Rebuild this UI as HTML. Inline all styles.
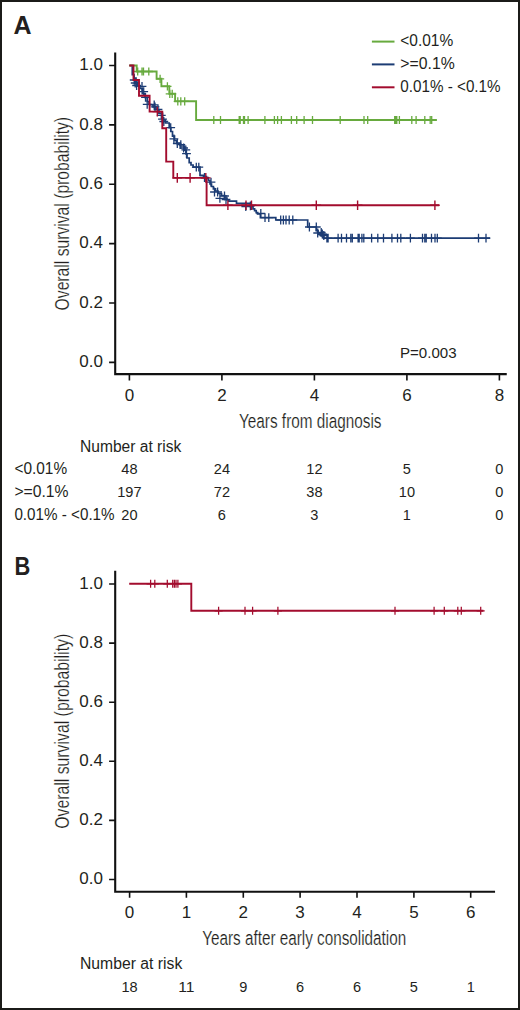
<!DOCTYPE html>
<html><head><meta charset="utf-8"><style>
html,body{margin:0;padding:0;background:#fff;}
body{width:520px;height:1010px;overflow:hidden;}
.fr{position:absolute;left:0;top:0;width:520px;height:1010px;box-sizing:border-box;border-style:solid;border-color:#1b1b19;border-width:2px 2.3px 2.4px 2px;}
svg{position:absolute;left:0;top:0;}
.thin{stroke:#fff;stroke-width:0.2px;}
</style></head><body>
<svg width="520" height="1010" viewBox="0 0 520 1010" font-family='"Liberation Sans", sans-serif' fill="#231f20">
<path d="M115.2,53.5V374.1H505.7" fill="none" stroke="#111" stroke-width="2.1" stroke-linejoin="miter" stroke-linecap="square"/>
<path d="M109.1,362.4H115.2M109.1,303.0H115.2M109.1,243.6H115.2M109.1,184.3H115.2M109.1,124.9H115.2M109.1,65.5H115.2M129.4,374.1V380.4M221.9,374.1V380.4M314.4,374.1V380.4M406.9,374.1V380.4M499.4,374.1V380.4" fill="none" stroke="#111" stroke-width="1.6"/>
<text x="103.0" y="367.2" font-size="17" text-anchor="end">0.0</text>
<text x="103.0" y="307.8" font-size="17" text-anchor="end">0.2</text>
<text x="103.0" y="248.4" font-size="17" text-anchor="end">0.4</text>
<text x="103.0" y="189.1" font-size="17" text-anchor="end">0.6</text>
<text x="103.0" y="129.7" font-size="17" text-anchor="end">0.8</text>
<text x="103.0" y="70.3" font-size="17" text-anchor="end">1.0</text>
<text x="129.4" y="400.5" font-size="17" text-anchor="middle">0</text>
<text x="221.9" y="400.5" font-size="17" text-anchor="middle">2</text>
<text x="314.4" y="400.5" font-size="17" text-anchor="middle">4</text>
<text x="406.9" y="400.5" font-size="17" text-anchor="middle">6</text>
<text x="499.4" y="400.5" font-size="17" text-anchor="middle">8</text>
<text x="239.0" y="427.6" font-size="20.5" textLength="142.5" lengthAdjust="spacingAndGlyphs" class="thin">Years from diagnosis</text>
<text transform="translate(68.7,310.4) rotate(-90)" class="thin" font-size="20" textLength="193.5" lengthAdjust="spacingAndGlyphs">Overall survival (probability)</text>
<text x="13.6" y="34.1" font-size="25" font-weight="bold">A</text>
<path d="M371.9,41.6H394.5" stroke="#67aa3e" stroke-width="2"/>
<text x="400.3" y="46.3" font-size="16" textLength="52.9" lengthAdjust="spacingAndGlyphs">&lt;0.01%</text>
<path d="M371.9,64.4H394.5" stroke="#1c3c74" stroke-width="2"/>
<text x="400.3" y="68.9" font-size="16" textLength="54.4" lengthAdjust="spacingAndGlyphs">&gt;=0.1%</text>
<path d="M371.9,87.3H394.5" stroke="#a30c2e" stroke-width="2"/>
<text x="400.3" y="92.1" font-size="16" textLength="100.3" lengthAdjust="spacingAndGlyphs">0.01% - &lt;0.1%</text>
<text x="400.0" y="357.7" font-size="15.5" textLength="56.6" lengthAdjust="spacingAndGlyphs">P=0.003</text>
<text x="80.0" y="451.6" font-size="15.8" textLength="101.3" lengthAdjust="spacingAndGlyphs">Number at risk</text>
<text x="14.4" y="474.0" font-size="16" textLength="52.7" lengthAdjust="spacingAndGlyphs">&lt;0.01%</text>
<text x="129.4" y="474.0" font-size="15.5" text-anchor="middle" textLength="16.2" lengthAdjust="spacingAndGlyphs">48</text>
<text x="221.9" y="474.0" font-size="15.5" text-anchor="middle" textLength="16.2" lengthAdjust="spacingAndGlyphs">24</text>
<text x="314.4" y="474.0" font-size="15.5" text-anchor="middle" textLength="16.2" lengthAdjust="spacingAndGlyphs">12</text>
<text x="406.9" y="474.0" font-size="15.5" text-anchor="middle" textLength="8.1" lengthAdjust="spacingAndGlyphs">5</text>
<text x="499.4" y="474.0" font-size="15.5" text-anchor="middle" textLength="8.1" lengthAdjust="spacingAndGlyphs">0</text>
<text x="14.4" y="496.8" font-size="16" textLength="54.2" lengthAdjust="spacingAndGlyphs">&gt;=0.1%</text>
<text x="129.4" y="496.8" font-size="15.5" text-anchor="middle" textLength="24.3" lengthAdjust="spacingAndGlyphs">197</text>
<text x="221.9" y="496.8" font-size="15.5" text-anchor="middle" textLength="16.2" lengthAdjust="spacingAndGlyphs">72</text>
<text x="314.4" y="496.8" font-size="15.5" text-anchor="middle" textLength="16.2" lengthAdjust="spacingAndGlyphs">38</text>
<text x="406.9" y="496.8" font-size="15.5" text-anchor="middle" textLength="16.2" lengthAdjust="spacingAndGlyphs">10</text>
<text x="499.4" y="496.8" font-size="15.5" text-anchor="middle" textLength="8.1" lengthAdjust="spacingAndGlyphs">0</text>
<text x="14.4" y="519.5" font-size="16" textLength="100.2" lengthAdjust="spacingAndGlyphs">0.01% - &lt;0.1%</text>
<text x="129.4" y="519.5" font-size="15.5" text-anchor="middle" textLength="16.2" lengthAdjust="spacingAndGlyphs">20</text>
<text x="221.9" y="519.5" font-size="15.5" text-anchor="middle" textLength="8.1" lengthAdjust="spacingAndGlyphs">6</text>
<text x="314.4" y="519.5" font-size="15.5" text-anchor="middle" textLength="8.1" lengthAdjust="spacingAndGlyphs">3</text>
<text x="406.9" y="519.5" font-size="15.5" text-anchor="middle" textLength="8.1" lengthAdjust="spacingAndGlyphs">1</text>
<text x="499.4" y="519.5" font-size="15.5" text-anchor="middle" textLength="8.1" lengthAdjust="spacingAndGlyphs">0</text>
<path d="M129.4,65.5H132.3V74.7H134V78H136V82H137.5V86H140V88.5H142.3V93.7H145V97.4H147.2V101.5H149V104.5H153V106.9H156V109.5H159V113.3H162.5V120H165.4V123H169.2V127.7H170.8V131.5H172.5V136.2H174.5V140.5H176.5V143H180V146H184.4V150.2H186V154H187V158H189.2V162.7H191V165H193.1V167.1H200V175.3H203.5V176.5H206.5V178.5H208.5V180.5H210V184H211.5V186.5H213.4V188.8H215.5V191H218V193.5H221.5V195.5H224.5V198H227V200H228.8V201.1H236.5V203.4H250.4V206.5H253V208.8H254.6V210.7H256.2V212.6H257.7V213.8H260.4V217.6H275.8V220.0H307.7V227H316.3V230.5H318.1V234.3H321V235.5H323.8V238.1H490" fill="none" stroke="#1c3c74" stroke-width="1.7"/>
<path d="M129.8,80.0H138.6M134.2,75.6V84.4M130.8,83.0H139.6M135.2,78.6V87.4M132.2,85.5H141.0M136.6,81.1V89.9M137.6,86.4H146.4M142.0,82.0V90.8M139.3,91.6H148.1M143.7,87.2V96.0M141.1,97.4H149.9M145.5,93.0V101.8M142.8,104.3H151.6M147.2,99.9V108.7M149.8,104.9H158.6M154.2,100.5V109.3M150.6,106.9H159.4M155.0,102.5V111.3M153.6,109.5H162.4M158.0,105.1V113.9M156.9,115.4H165.7M161.3,111.0V119.8M158.1,119.2H166.9M162.5,114.8V123.6M159.4,121.5H168.2M163.8,117.1V125.9M166.3,127.7H175.1M170.7,123.3V132.1M169.5,138.8H178.3M173.9,134.4V143.2M172.9,143.5H181.7M177.3,139.1V147.9M176.4,144.6H185.2M180.8,140.2V149.0M179.2,148.0H188.0M183.6,143.6V152.4M181.4,149.8H190.2M185.8,145.4V154.2M182.1,153.6H190.9M186.5,149.2V158.0M191.9,167.1H200.7M196.3,162.7V171.5M194.4,167.1H203.2M198.8,162.7V171.5M200.1,177.5H208.9M204.5,173.1V181.9M206.6,182.2H215.4M211.0,177.8V186.6M210.1,192.0H218.9M214.5,187.6V196.4M213.2,192.0H222.0M217.6,187.6V196.4M215.5,198.4H224.3M219.9,194.0V202.8M220.1,196.0H228.9M224.5,191.6V200.4M221.6,199.5H230.4M226.0,195.1V203.9M241.4,206.5H250.2M245.8,202.1V210.9M246.0,205.8H254.8M250.4,201.4V210.2M256.4,213.5H265.2M260.8,209.1V217.9M260.6,217.6H269.4M265.0,213.2V222.0M264.4,217.6H273.2M268.8,213.2V222.0M276.3,220.0H285.1M280.7,215.6V224.4M279.0,220.0H287.8M283.4,215.6V224.4M281.6,220.0H290.4M286.0,215.6V224.4M284.8,220.0H293.6M289.2,215.6V224.4M288.4,220.0H297.2M292.8,215.6V224.4M305.0,227.0H313.8M309.4,222.6V231.4M311.9,227.0H320.7M316.3,222.6V231.4M313.3,233.0H322.1M317.7,228.6V237.4M316.8,232.4H325.6M321.2,228.0V236.8M317.9,234.0H326.7M322.3,229.6V238.4M319.4,235.5H328.2M323.8,231.1V239.9M322.5,238.1H331.3M326.9,233.7V242.5M323.7,238.1H332.5M328.1,233.7V242.5M333.7,238.1H342.5M338.1,233.7V242.5M337.1,238.1H345.9M341.5,233.7V242.5M342.1,238.1H350.9M346.5,233.7V242.5M346.4,238.1H355.2M350.8,233.7V242.5M347.9,238.1H356.7M352.3,233.7V242.5M353.7,238.1H362.5M358.1,233.7V242.5M354.8,238.1H363.6M359.2,233.7V242.5M357.5,238.1H366.3M361.9,233.7V242.5M359.4,238.1H368.2M363.8,233.7V242.5M367.2,238.1H376.0M371.6,233.7V242.5M373.4,238.1H382.2M377.8,233.7V242.5M379.1,238.1H387.9M383.5,233.7V242.5M387.5,238.1H396.3M391.9,233.7V242.5M393.1,238.1H401.9M397.5,233.7V242.5M396.4,238.1H405.2M400.8,233.7V242.5M406.0,238.1H414.8M410.4,233.7V242.5M418.1,238.1H426.9M422.5,233.7V242.5M420.4,238.1H429.2M424.8,233.7V242.5M421.8,238.1H430.6M426.2,233.7V242.5M427.1,238.1H435.9M431.5,233.7V242.5M430.6,238.1H439.4M435.0,233.7V242.5M432.9,238.1H441.7M437.3,233.7V242.5M474.1,238.1H482.9M478.5,233.7V242.5M481.6,238.1H490.4M486.0,233.7V242.5" fill="none" stroke="#1c3c74" stroke-width="1.3"/>
<path d="M129.4,65.5H136.7V71.5H156.6V78.8H161.4V86.3H169.3V93.8H175.1V101.3H196.1V120.0H436.9" fill="none" stroke="#67aa3e" stroke-width="1.9"/>
<path d="M133.6,71.5H141.8M137.7,67.4V75.6M137.9,71.5H146.1M142.0,67.4V75.6M139.4,71.5H147.6M143.5,67.4V75.6M144.7,71.5H152.9M148.8,67.4V75.6M156.0,78.8H164.2M160.1,74.7V82.9M163.3,86.3H171.5M167.4,82.2V90.4M165.7,93.8H173.9M169.8,89.7V97.9M168.1,93.8H176.3M172.2,89.7V97.9M173.7,101.3H181.9M177.8,97.2V105.4M176.7,101.3H184.9M180.8,97.2V105.4M180.6,101.3H188.8M184.7,97.2V105.4M209.7,120.0H217.9M213.8,115.9V124.1M216.4,120.0H224.6M220.5,115.9V124.1M235.1,120.0H243.3M239.2,115.9V124.1M236.1,120.0H244.3M240.2,115.9V124.1M239.4,120.0H247.6M243.5,115.9V124.1M240.4,120.0H248.6M244.5,115.9V124.1M244.0,120.0H252.2M248.1,115.9V124.1M260.8,120.0H269.0M264.9,115.9V124.1M270.3,120.0H278.5M274.4,115.9V124.1M273.5,120.0H281.7M277.6,115.9V124.1M277.3,120.0H285.5M281.4,115.9V124.1M287.3,120.0H295.5M291.4,115.9V124.1M292.6,120.0H300.8M296.7,115.9V124.1M300.0,120.0H308.2M304.1,115.9V124.1M308.4,120.0H316.6M312.5,115.9V124.1M336.1,120.0H344.3M340.2,115.9V124.1M359.9,120.0H368.1M364.0,115.9V124.1M363.6,120.0H371.8M367.7,115.9V124.1M390.6,120.0H398.8M394.7,115.9V124.1M391.7,120.0H399.9M395.8,115.9V124.1M392.7,120.0H400.9M396.8,115.9V124.1M395.3,120.0H403.5M399.4,115.9V124.1M407.7,120.0H415.9M411.8,115.9V124.1M412.0,120.0H420.2M416.1,115.9V124.1M420.7,120.0H428.9M424.8,115.9V124.1M426.1,120.0H434.3M430.2,115.9V124.1M427.6,120.0H435.8M431.7,115.9V124.1" fill="none" stroke="#67aa3e" stroke-width="1.3"/>
<path d="M129.3,65.5H133.5V80.0H139.0V95.8H149.6V111.6H162.3V128.3H166.2V161.6H173.3V177.9H206.6V205.2H439.2" fill="none" stroke="#a30c2e" stroke-width="1.9"/>
<path d="M152.5,111.6H162.1M157.3,106.8V116.4M172.5,177.9H182.1M177.3,173.1V182.7M185.3,177.9H194.9M190.1,173.1V182.7M201.0,177.9H210.6M205.8,173.1V182.7M223.1,205.2H232.7M227.9,200.4V210.0M241.2,205.2H250.8M246.0,200.4V210.0M246.7,205.2H256.3M251.5,200.4V210.0M311.5,205.2H321.1M316.3,200.4V210.0M352.8,205.2H362.4M357.6,200.4V210.0M430.1,205.2H439.7M434.9,200.4V210.0" fill="none" stroke="#a30c2e" stroke-width="1.4"/>
<path d="M115.2,571.9V891.7H494" fill="none" stroke="#111" stroke-width="2.1" stroke-linecap="square"/>
<path d="M109.1,879.5H115.2M109.1,820.4H115.2M109.1,761.3H115.2M109.1,702.2H115.2M109.1,643.1H115.2M109.1,584.0H115.2M129.6,891.7V897.7M186.4,891.7V897.7M243.3,891.7V897.7M300.1,891.7V897.7M357.0,891.7V897.7M413.9,891.7V897.7M470.7,891.7V897.7" fill="none" stroke="#111" stroke-width="1.6"/>
<text x="103.0" y="884.3" font-size="17" text-anchor="end">0.0</text>
<text x="103.0" y="825.2" font-size="17" text-anchor="end">0.2</text>
<text x="103.0" y="766.1" font-size="17" text-anchor="end">0.4</text>
<text x="103.0" y="707.0" font-size="17" text-anchor="end">0.6</text>
<text x="103.0" y="647.9" font-size="17" text-anchor="end">0.8</text>
<text x="103.0" y="588.8" font-size="17" text-anchor="end">1.0</text>
<text x="129.6" y="917.9" font-size="17" text-anchor="middle">0</text>
<text x="186.4" y="917.9" font-size="17" text-anchor="middle">1</text>
<text x="243.3" y="917.9" font-size="17" text-anchor="middle">2</text>
<text x="300.1" y="917.9" font-size="17" text-anchor="middle">3</text>
<text x="357.0" y="917.9" font-size="17" text-anchor="middle">4</text>
<text x="413.9" y="917.9" font-size="17" text-anchor="middle">5</text>
<text x="470.7" y="917.9" font-size="17" text-anchor="middle">6</text>
<text x="202.2" y="945.2" font-size="20" textLength="204.0" lengthAdjust="spacingAndGlyphs" class="thin">Years after early consolidation</text>
<text transform="translate(68.7,828.8) rotate(-90)" class="thin" font-size="20" textLength="195" lengthAdjust="spacingAndGlyphs">Overall survival (probability)</text>
<text x="14.6" y="574.8" font-size="25" textLength="15.8" lengthAdjust="spacingAndGlyphs" font-weight="bold">B</text>
<text x="80.0" y="968.7" font-size="15.8" textLength="102.3" lengthAdjust="spacingAndGlyphs">Number at risk</text>
<text x="129.6" y="991.5" font-size="15.5" text-anchor="middle" textLength="16.2" lengthAdjust="spacingAndGlyphs">18</text>
<text x="186.4" y="991.5" font-size="15.5" text-anchor="middle" textLength="16.2" lengthAdjust="spacingAndGlyphs">11</text>
<text x="243.3" y="991.5" font-size="15.5" text-anchor="middle" textLength="8.1" lengthAdjust="spacingAndGlyphs">9</text>
<text x="300.1" y="991.5" font-size="15.5" text-anchor="middle" textLength="8.1" lengthAdjust="spacingAndGlyphs">6</text>
<text x="357.0" y="991.5" font-size="15.5" text-anchor="middle" textLength="8.1" lengthAdjust="spacingAndGlyphs">6</text>
<text x="413.9" y="991.5" font-size="15.5" text-anchor="middle" textLength="8.1" lengthAdjust="spacingAndGlyphs">5</text>
<text x="470.7" y="991.5" font-size="15.5" text-anchor="middle" textLength="8.1" lengthAdjust="spacingAndGlyphs">1</text>
<path d="M129.2,583.8H191.3V610.8H483.4" fill="none" stroke="#a30c2e" stroke-width="1.9"/>
<path d="M146.6,583.8H154.6M150.6,579.8V587.8M150.8,583.8H158.8M154.8,579.8V587.8M163.3,583.8H171.3M167.3,579.8V587.8M168.7,583.8H176.7M172.7,579.8V587.8M170.4,583.8H178.4M174.4,579.8V587.8M172.0,583.8H180.0M176.0,579.8V587.8M173.9,583.8H181.9M177.9,579.8V587.8M214.6,610.8H222.6M218.6,606.8V614.8M241.0,610.8H249.0M245.0,606.8V614.8M248.6,610.8H256.6M252.6,606.8V614.8M273.9,610.8H281.9M277.9,606.8V614.8M391.0,610.8H399.0M395.0,606.8V614.8M430.1,610.8H438.1M434.1,606.8V614.8M440.3,610.8H448.3M444.3,606.8V614.8M453.8,610.8H461.8M457.8,606.8V614.8M457.3,610.8H465.3M461.3,606.8V614.8M476.7,610.8H484.7M480.7,606.8V614.8" fill="none" stroke="#a30c2e" stroke-width="1.25"/>
</svg>
<div class="fr"></div>
</body></html>
